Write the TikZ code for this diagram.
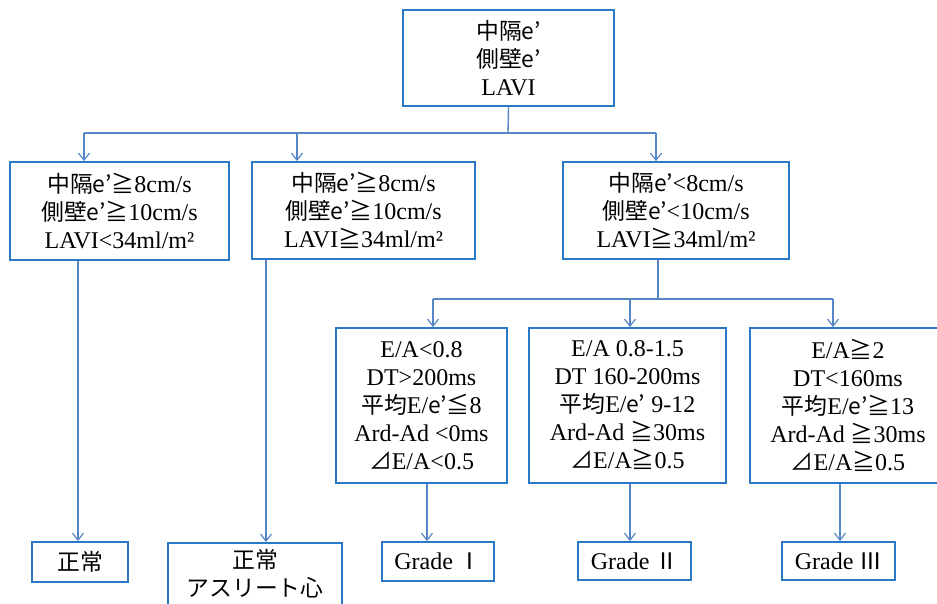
\documentclass[tikz,border=0pt]{standalone}
\usepackage{fontspec}
\setmainfont{Liberation Serif}
\newfontfamily\cjk[Scale=0.95]{Noto Sans CJK JP}
\usetikzlibrary{arrows.meta}
\definecolor{boxblue}{RGB}{41,121,199}
\definecolor{linkblue}{RGB}{86,134,198}
\tikzset{
  box/.style={draw=boxblue, line width=1.8pt, fill=white, inner sep=0pt, align=center,
    font=\fontsize{24}{28}\selectfont},
  lbl/.style={inner sep=0pt, align=center, font=\fontsize{24}{28}\selectfont},
  link/.style={draw=linkblue, line width=1.4pt},
  arr/.style={link, -{Straight Barb[length=7pt,width=11pt,line width=1.2pt]}}
}
\begin{document}
\begin{tikzpicture}[x=1pt,y=-1pt]
\useasboundingbox (0,0) rectangle (937,604);
% boxes
\node[box, minimum width=211pt, minimum height=96pt] (top) at (508.5,58) {{\cjk 中隔e’}\\{\cjk 側壁e’}\\LAVI};
\node[box, minimum width=219pt, minimum height=98pt] (A) at (119.5,211) {{\cjk 中隔e’≧}8cm/s\\{\cjk 側壁e’≧}10cm/s\\LAVI<34ml/m²};
\node[box, minimum width=223pt, minimum height=97pt] (B) at (363.5,210.5) {{\cjk 中隔e’≧}8cm/s\\{\cjk 側壁e’≧}10cm/s\\LAVI{\cjk ≧}34ml/m²};
\node[box, minimum width=226pt, minimum height=97pt] (C) at (676,210.5) {{\cjk 中隔e’}<8cm/s\\{\cjk 側壁e’}<10cm/s\\LAVI{\cjk ≧}34ml/m²};
\node[box, minimum width=171pt, minimum height=155pt] (D) at (421.5,405.5) {E/A<0.8\\DT>200ms\\{\cjk 平均}E/{\cjk e’≦}8\\Ard-Ad <0ms\\{\cjk ⊿}E/A<0.5};
\node[box, minimum width=197pt, minimum height=155pt] (E) at (627.5,405.5) {E/A 0.8-1.5\\DT 160-200ms\\{\cjk 平均}E/{\cjk e’} 9-12\\Ard-Ad {\cjk ≧}30ms\\{\cjk ⊿}E/A{\cjk ≧}0.5};
\node[box, minimum width=220pt, minimum height=155pt] (F) at (860,405.5) {};
\node[lbl] (Ft) at (848,405.5) {E/A{\cjk ≧}2\\DT<160ms\\{\cjk 平均}E/{\cjk e’≧}13\\Ard-Ad {\cjk ≧}30ms\\{\cjk ⊿}E/A{\cjk ≧}0.5};
\node[box, minimum width=96pt, minimum height=40pt] (N1) at (80,562) {\cjk 正常};
\node[box, minimum width=174pt, minimum height=84pt, anchor=north] (N2) at (255,542) {};
\node[lbl, anchor=north] (N2t) at (255,549) {\cjk 正常\\\cjk アスリート心};
\node[box, minimum width=112pt, minimum height=39pt] (G1) at (438,561.5) {Grade {\cjk Ⅰ}};
\node[box, minimum width=113pt, minimum height=38pt] (G2) at (634.5,561) {Grade {\cjk Ⅱ}};
\node[box, minimum width=113pt, minimum height=38pt] (G3) at (838.5,561) {Grade {\cjk Ⅲ}};
% first level connectors
\coordinate (b1) at (508,133);
\coordinate (bL) at (84,133);
\coordinate (bM) at (297,133);
\coordinate (bR) at (656,133);
\draw[link] (top.south) -- (b1);
\draw[link] (bL) -- (bR);
\draw[arr] (bL) -- (bL |- A.north);
\draw[arr] (bM) -- (bM |- B.north);
\draw[arr] (bR) -- (bR |- C.north);
% second level connectors
\coordinate (c1) at (658,299);
\coordinate (cL) at (433,299);
\coordinate (cM) at (630,299);
\coordinate (cR) at (833,299);
\draw[link] (c1 |- C.south) -- (c1);
\draw[link] (cL) -- (cR);
\draw[arr] (cL) -- (cL |- D.north);
\draw[arr] (cM) -- (cM |- E.north);
\draw[arr] (cR) -- (cR |- F.north);
% to results
\coordinate (dA) at (78,0);
\coordinate (dB) at (266,0);
\coordinate (dD) at (427,0);
\coordinate (dE) at (630,0);
\coordinate (dF) at (840,0);
\draw[arr] (dA |- A.south) -- (dA |- N1.north);
\draw[arr] (dB |- B.south) -- (dB |- N2.north);
\draw[arr] (dD |- D.south) -- (dD |- G1.north);
\draw[arr] (dE |- E.south) -- (dE |- G2.north);
\draw[arr] (dF |- F.south) -- (dF |- G3.north);
\end{tikzpicture}
\end{document}
